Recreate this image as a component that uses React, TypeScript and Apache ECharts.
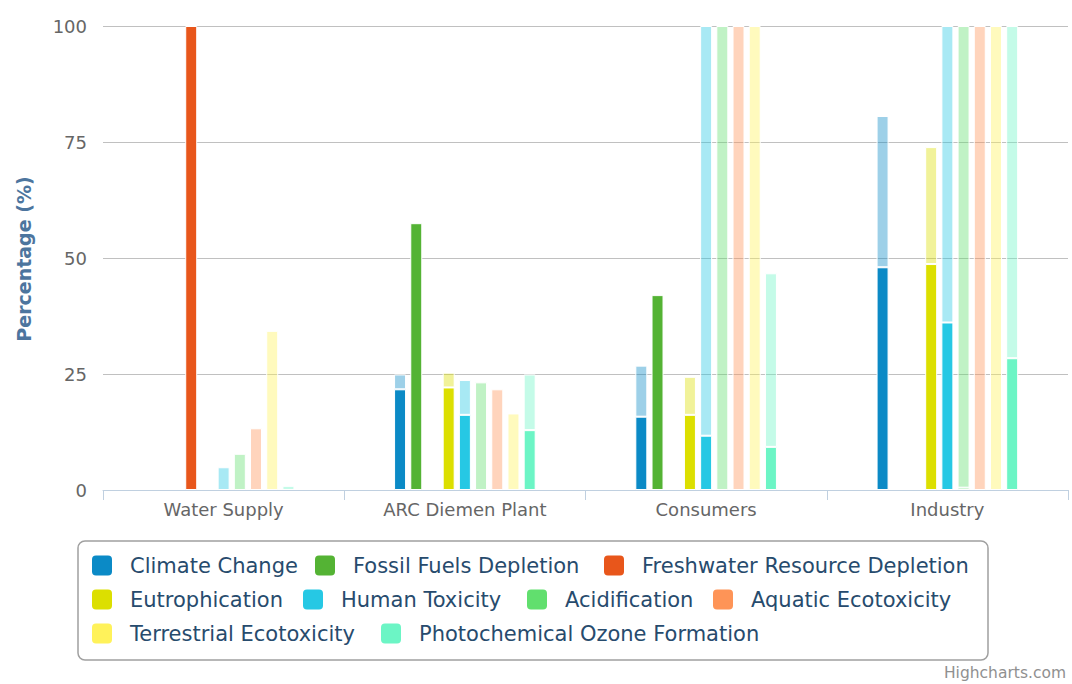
import React, { useEffect, useRef } from "react";
import * as echarts from "echarts";

const categories = ["Water Supply", "ARC Diemen Plant", "Consumers", "Industry"];
const yTicks = [0, 25, 50, 75, 100];

const impactNames = [
  "Climate Change",
  "Fossil Fuels Depletion",
  "Freshwater Resource Depletion",
  "Eutrophication",
  "Human Toxicity",
  "Acidification",
  "Aquatic Ecotoxicity",
  "Terrestrial Ecotoxicity",
  "Photochemical Ozone Formation",
];
const impactColors = [
  "#0b8ac6",
  "#54b334",
  "#e8561b",
  "#dcdf00",
  "#26c8e4",
  "#61df6e",
  "#fe9457",
  "#fff25a",
  "#6cf5c5",
];

// lower (solid) part and upper (light) increment, per category
const climateLow = [null, 21.7, 15.8, 48.0];
const climateHigh = [null, 3.2, 11.0, 32.6];
const fossilLow = [null, 57.5, 42.0, null];
const fossilHigh = [null, null, null, null];
const freshwaterLow = [100, null, null, null];
const freshwaterHigh = [null, null, null, null];
const eutroLow = [null, 22.1, 16.2, 48.7];
const eutroHigh = [null, 3.2, 8.2, 25.2];
const humanLow = [null, 16.2, 11.7, 36.1];
const humanHigh = [4.9, 7.5, 88.3, 63.9];
const acidLow = [null, null, null, 0.5];
const acidHigh = [7.8, 23.2, 100, 99.5];
const aquaticLow = [null, null, null, null];
const aquaticHigh = [13.3, 21.7, 100, 100];
const terrestrialLow = [null, null, null, null];
const terrestrialHigh = [34.3, 16.5, 100, 100];
const photoLow = [null, 12.9, 9.3, 28.4];
const photoHigh = [0.9, 12.0, 37.4, 71.6];

const lowParts = [climateLow, fossilLow, freshwaterLow, eutroLow, humanLow, acidLow, aquaticLow, terrestrialLow, photoLow];
const highParts = [climateHigh, fossilHigh, freshwaterHigh, eutroHigh, humanHigh, acidHigh, aquaticHigh, terrestrialHigh, photoHigh];

const legendRows = [
  { top: 555, items: [0, 1, 2], lefts: [92, 315, 604] },
  { top: 589, items: [3, 4, 5, 6], lefts: [92, 303, 527, 713] },
  { top: 623, items: [7, 8], lefts: [92, 381] },
];

function rgba(hex: string, a: number) {
  const r = parseInt(hex.slice(1, 3), 16);
  const g = parseInt(hex.slice(3, 5), 16);
  const b = parseInt(hex.slice(5, 7), 16);
  return `rgba(${r},${g},${b},${a})`;
}

const FONT = "DejaVu Sans";
const ICON = "path://M4,0 H16 Q20,0 20,4 V16 Q20,20 16,20 H4 Q0,20 0,16 V4 Q0,0 4,0 Z";

export default function App() {
  const ref = useRef<HTMLDivElement>(null);
  useEffect(() => {
    document.body.style.margin = "0";
    const chart = echarts.init(ref.current!, null, { renderer: "svg" });
    const series: any[] = [];
    impactNames.forEach((name, i) => {
      series.push({
        type: "bar",
        name,
        stack: "s" + i,
        data: lowParts[i],
        barWidth: 12,
        barGap: "35%",
        itemStyle: { color: impactColors[i], borderColor: "#ffffff", borderWidth: 1 },
      });
      series.push({
        type: "bar",
        name,
        stack: "s" + i,
        data: highParts[i],
        barWidth: 12,
        barGap: "35%",
        itemStyle: { color: rgba(impactColors[i], 0.4), borderColor: "#ffffff", borderWidth: 1 },
      });
    });
    const legends: any[] = [];
    legendRows.forEach((row) => {
      row.items.forEach((idx, k) => {
        legends.push({
          left: row.lefts[k],
          top: row.top,
          padding: 0,
          orient: "horizontal",
          itemWidth: 20,
          itemHeight: 20,
          icon: ICON,
          selectedMode: false,
          data: [
            {
              name: impactNames[idx],
              icon: ICON,
              itemStyle: { color: impactColors[idx], opacity: 1, borderWidth: 0 },
            },
          ],
          textStyle: {
            fontFamily: FONT,
            fontSize: 21,
            color: "#274b6d",
            padding: [0, 0, 0, 13],
          },
        });
      });
    });
    chart.setOption({
      animation: false,
      backgroundColor: "#ffffff",
      textStyle: { fontFamily: FONT },
      grid: { left: 103, right: 4, top: 26, bottom: 194, containLabel: false },
      xAxis: {
        type: "category",
        data: categories,
        axisLine: { lineStyle: { color: "#c0d0e0", width: 1 } },
        axisTick: { show: true, length: 10, lineStyle: { color: "#c0d0e0" } },
        axisLabel: { color: "#666666", fontSize: 18, fontFamily: FONT, margin: 10 },
        splitLine: { show: false },
      },
      yAxis: {
        type: "value",
        min: 0,
        max: 100,
        interval: 25,
        axisLine: { show: false },
        axisTick: { show: false },
        axisLabel: {
          color: "#666666",
          fontSize: 18,
          fontFamily: FONT,
          margin: 16,
          formatter: (v: number) => (yTicks.includes(v) ? String(v) : ""),
        },
        splitLine: { lineStyle: { color: "#c0c0c0", width: 1 } },
      },
      legend: legends,
      graphic: [
        {
          type: "rect",
          shape: { x: 78, y: 541, width: 910, height: 119, r: 7 },
          style: { fill: "none", stroke: "#a0a0a0", lineWidth: 1.5 },
          silent: true,
          z: -1,
        },
        {
          type: "text",
          x: 24,
          y: 259,
          rotation: Math.PI / 2,
          style: {
            text: "Percentage (%)",
            fontFamily: FONT,
            fontSize: 19,
            fontWeight: "bold",
            fill: "#4d759e",
            align: "center",
            verticalAlign: "middle",
          },
        },
        {
          type: "text",
          x: 1066,
          y: 673,
          style: {
            text: "Highcharts.com",
            fontFamily: FONT,
            fontSize: 15.5,
            fill: "#909090",
            align: "right",
            verticalAlign: "middle",
          },
        },
      ],
      series,
    });
    return () => chart.dispose();
  }, []);
  return <div ref={ref} style={{ width: 1072, height: 684 }} />;
}
